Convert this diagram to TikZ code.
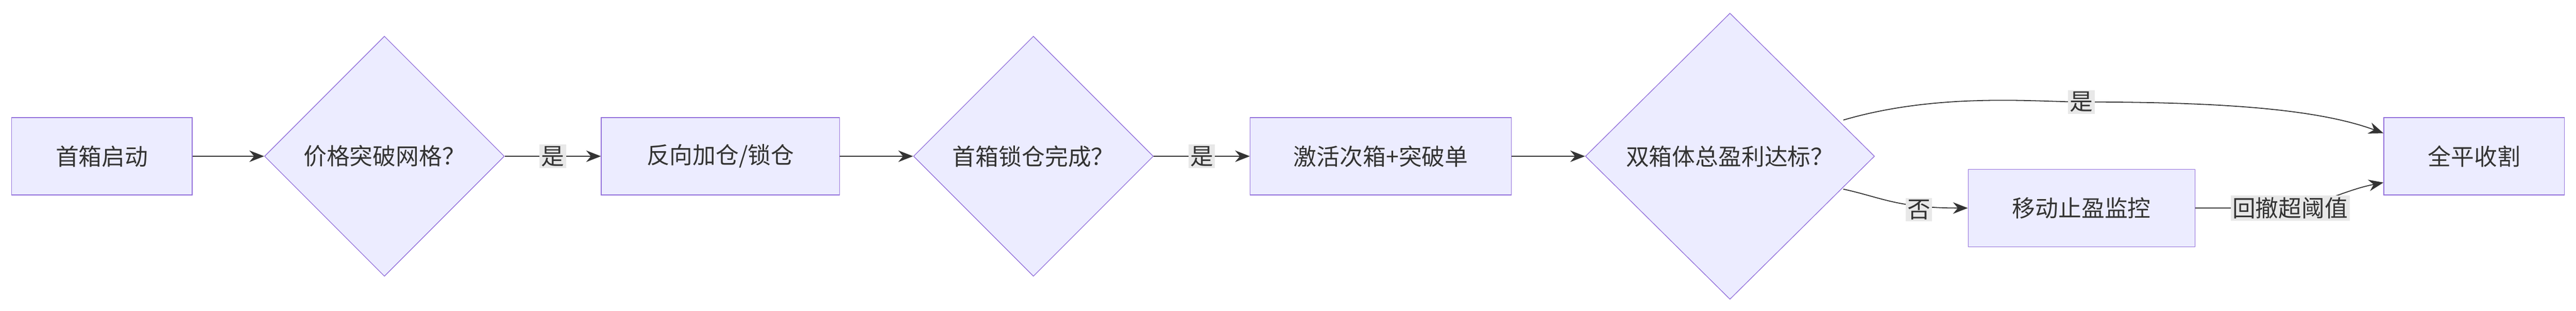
\documentclass[tikz,border=0pt]{standalone}
\usepackage{fontspec}
\newfontfamily\cjk{Noto Sans CJK SC}
\usetikzlibrary{shapes.geometric}
\usetikzlibrary{arrows.meta}
\usetikzlibrary{positioning}
\definecolor{nodefill}{HTML}{ECECFF}
\definecolor{nodeline}{HTML}{9370DB}
\definecolor{edgeline}{HTML}{333333}
\definecolor{labelbg}{HTML}{E8E8E8}
\tikzset{
  stepbox/.style = {
    rectangle, draw=nodeline, fill=nodefill, line width=1.2pt,
    minimum height=4.7cm, inner sep=0pt
  },
  choice/.style = {
    diamond, draw=nodeline, fill=nodefill, line width=1.2pt,
    aspect=1, inner sep=0pt
  },
  arrow/.style = {
    -{Stealth[length=9mm,width=7mm]}, draw=edgeline, line width=1.6pt
  },
  edgelabel/.style = {
    fill=labelbg, inner sep=3pt, text=edgeline
  }
}
\begin{document}
\begin{tikzpicture}[font=\cjk\fontsize{40}{48}\selectfont, text=edgeline]
  \useasboundingbox (0,0) rectangle (156.8,-18.9);

  \node [stepbox, minimum width=11cm] (start) at (6.2,-9.5) {首箱启动};
  \node [choice, minimum width=14.6cm, minimum height=14.6cm] (grid) at (23.4,-9.5) {价格突破网格？};
  \node [stepbox, minimum width=14.5cm] (hedge) at (43.85,-9.5) {反向加仓/锁仓};
  \node [choice, minimum width=14.6cm, minimum height=14.6cm] (locked) at (62.9,-9.5) {首箱锁仓完成？};
  \node [stepbox, minimum width=15.9cm] (second) at (84.05,-9.5) {激活次箱+突破单};
  \node [choice, minimum width=17.6cm, minimum height=17.4cm] (profit) at (105.3,-9.5) {双箱体总盈利达标？};
  \node [stepbox, minimum width=13.8cm] (trail) at (126.7,-12.65) {移动止盈监控};
  \node [stepbox, minimum width=11cm] (close) at (150.6,-9.5) {全平收割};

  % main line
  \draw [arrow] (start) -- (grid);
  \draw [arrow] (grid) -- (hedge) node [midway, edgelabel] {是};
  \draw [arrow] (hedge) -- (locked);
  \draw [arrow] (locked) -- (second) node [midway, edgelabel] {是};
  \draw [arrow] (second) -- (profit);

  % branches after the profit check
  \coordinate (profit-up) at (112.2,-7.3);
  \coordinate (profit-down) at (112.2,-11.5);
  \draw [arrow] (profit-up) .. controls (118,-5.6) and (124,-6.2) .. (126.7,-6.2)
    .. controls (135,-6.2) and (141,-6.6) .. (close.north west |- 0,-8.1);
  \node [edgelabel] (yeslabel) at (126.7,-6.2) {是};
  \draw [arrow] (profit-down) .. controls (114.5,-12) and (115.5,-12.65) .. (trail.west);
  \node [edgelabel] (nolabel) at (116.8,-12.75) {否};
  \draw [arrow] (trail.east) -- (138.6,-12.65) .. controls (141,-12.65) and (142.5,-11.6) .. (close.west |- 0,-11.1);
  \node [edgelabel] (drawdown) at (139.4,-12.65) {回撤超阈值};
\end{tikzpicture}
\end{document}
